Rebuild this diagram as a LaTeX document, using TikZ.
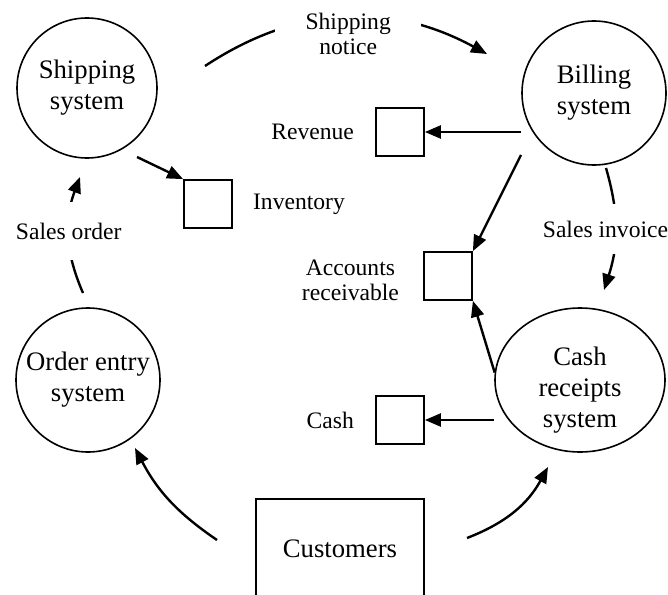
\documentclass[tikz,border=0pt]{standalone}
\usepackage{fontspec}
\setmainfont{Liberation Serif}
\usetikzlibrary{arrows.meta,positioning,shapes.geometric}

\begin{document}
\begin{tikzpicture}[x=1pt, y=-1pt,
    proc/.style={draw, line width=1.6pt, circle, minimum size=144pt, inner sep=0pt,
      align=center, font=\fontsize{26.7}{31}\selectfont},
    store/.style={draw, line width=1.8pt, minimum size=48pt, inner sep=0pt},
    lbl/.style={font=\fontsize{23.6}{25}\selectfont, align=center, inner sep=0pt},
    gap/.style={lbl, fill=white},
    flow/.style={line width=2.4pt, -{Triangle[length=16pt,width=13pt]}},
  ]
    \clip (0,0) rectangle (668,594);

    % --- Processi ---
    \node[proc, minimum size=140pt] (ship) at (87,88) {Shipping\\system};
    \node[proc] (bill) at (594,93) {Billing\\system};
    \node[proc] (order) at (88,380) {Order entry\\system};
    \node[proc, ellipse, minimum width=170pt, minimum height=144pt,
      label={[align=center, font=\fontsize{26.7}{31}\selectfont, yshift=-10pt]center:Cash\\receipts\\system}]
      (cashr) at (580,380) {};

    % --- Archivi ---
    \node[store] (rev) at (400,132) {};
    \node[store] (inv) at (208,204) {};
    \node[store] (ar) at (448,276) {};
    \node[store] (cash) at (400,420) {};

    \node[lbl, left=21pt of rev] (rev-lbl) {Revenue};
    \node[lbl, right=20pt of inv] (inv-lbl) {Inventory};
    \node[lbl, left=24pt of ar, yshift=-4pt] (ar-lbl) {Accounts\\receivable};
    \node[lbl, left=21pt of cash] (cash-lbl) {Cash};

    % --- Entita esterna (tagliata dal bordo) ---
    \node[draw, line width=1.8pt, minimum width=168pt, minimum height=100pt,
      font=\fontsize{26.7}{31}\selectfont] (cust) at (340,549) {Customers};

    % --- Estremi liberi dei flussi ---
    \coordinate (sn-tail) at (205,66);
    \coordinate (sn-head) at (487,54);
    \coordinate (so-tail) at (83,293);
    \coordinate (so-head) at (80,177);
    \coordinate (si-tail) at (606,168);
    \coordinate (si-head) at (604,290);
    \coordinate (inv-tail) at (137,157);
    \coordinate (ar-tail) at (521,155);
    \coordinate (co-tail) at (217,540);
    \coordinate (co-head) at (135,448);
    \coordinate (cc-tail) at (467,538);
    \coordinate (cc-head) at (548,467);

    % --- Flussi ---
    \draw[flow] (sn-tail) to[bend left=31]
      node[gap, xshift=4pt, yshift=-17pt, minimum width=146pt, minimum height=58pt] (sn-lbl) {Shipping\\notice} (sn-head);
    \draw[flow] (so-tail) to[bend left=22]
      node[gap, yshift=4pt, minimum height=58pt] (so-lbl) {Sales order} (so-head);
    \draw[flow] (si-tail) to[bend left=17]
      node[gap, xshift=-10pt, minimum height=50pt] (si-lbl) {Sales invoice} (si-head);

    \draw[flow] (inv-tail) -- (inv.north west);
    \draw[flow] (bill.west |- rev) -- (rev);
    \draw[flow] (ar-tail) -- (ar.north east);
    \draw[flow] (cashr.175) -- (ar.south east);
    \draw[flow] (cashr.west |- cash) -- (cash);

    \draw[flow] (co-tail) to[bend left=14] (co-head);
    \draw[flow] (cc-tail) to[bend right=20] (cc-head);
\end{tikzpicture}
\end{document}
